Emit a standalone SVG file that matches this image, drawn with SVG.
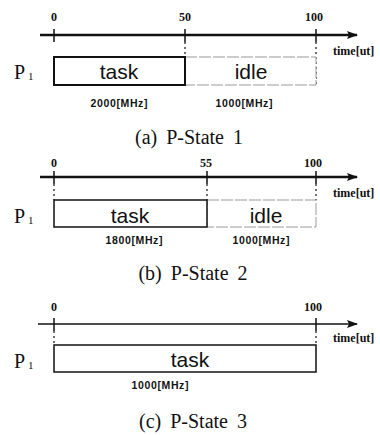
<svg xmlns="http://www.w3.org/2000/svg" width="380" height="435" viewBox="0 0 380 435">
<style>
.num{font-family:"Liberation Serif",serif;font-weight:bold;font-size:12px;text-anchor:middle;fill:#111}
.tl{font-family:"Liberation Serif",serif;font-weight:bold;font-size:12px;fill:#111}
.p{font-family:"Liberation Serif",serif;font-size:20px;fill:#111}
.ps{font-family:"Liberation Serif",serif;font-size:11px;fill:#111}
.lbl{font-family:"Liberation Sans",Arial,sans-serif;font-size:21px;text-anchor:middle;fill:#111}
.fq{font-family:"Liberation Sans",Arial,sans-serif;font-weight:bold;font-size:10.5px;text-anchor:middle;fill:#111}
.cap{font-family:"Liberation Serif",serif;font-size:20px;word-spacing:4px;text-anchor:middle;fill:#111}
.ax{stroke:#111;stroke-width:2.5;fill:none}
.ax2{stroke:#111;stroke-width:1.5;fill:none}
.tick{stroke:#111;stroke-width:1.5}
.dash{stroke:#111;stroke-width:1.2;stroke-dasharray:2 3}
.task{fill:#fff;stroke:#111;stroke-width:2}
.task2{fill:#fff;stroke:#111;stroke-width:1.5}
.idle{fill:#fff;stroke:#999;stroke-width:1;stroke-dasharray:12 2}
</style>
<defs>
<marker id="arr" markerWidth="11" markerHeight="8" refX="10" refY="4" orient="auto" markerUnits="userSpaceOnUse">
<path d="M0,0 L11,4 L0,8 L2,4 Z" fill="#111"/>
</marker>
</defs>

<g id="connectors">
<line class="ax" x1="40" y1="35" x2="357" y2="35" marker-end="url(#arr)"/>
<line class="tick" x1="54" y1="29" x2="54" y2="42"/>
<line class="tick" x1="185" y1="29" x2="185" y2="42"/>
<line class="tick" x1="316" y1="29" x2="316" y2="42"/>
<line class="dash" x1="185" y1="42" x2="185" y2="57"/>
<line class="dash" x1="316" y1="42" x2="316" y2="85"/>

<line class="ax" x1="40" y1="177" x2="357" y2="177" marker-end="url(#arr)"/>
<line class="tick" x1="54" y1="171" x2="54" y2="184"/>
<line class="tick" x1="207" y1="171" x2="207" y2="184"/>
<line class="tick" x1="316" y1="171" x2="316" y2="184"/>
<line class="dash" x1="54" y1="184" x2="54" y2="200"/>
<line class="dash" x1="207" y1="184" x2="207" y2="200"/>
<line class="dash" x1="316" y1="184" x2="316" y2="200"/>

<line class="ax2" x1="38" y1="324" x2="357" y2="324" marker-end="url(#arr)"/>
<line class="tick" x1="54" y1="318" x2="54" y2="331"/>
<line class="tick" x1="316" y1="318" x2="316" y2="331"/>
<line class="dash" x1="54" y1="331" x2="54" y2="345"/>
<line class="dash" x1="316" y1="331" x2="316" y2="345"/>
</g>

<g id="axis-a-labels">
<text class="num" x="54" y="21">0</text>
<text class="num" x="185" y="21">50</text>
<text class="num" x="314" y="21">100</text>
<text class="tl" x="333" y="55">time[ut]</text>
</g>
<g id="p1-a"><text class="p" x="14" y="79">P</text><text class="ps" x="28" y="80">1</text></g>
<g id="idle-a">
<rect class="idle" x="185" y="57" width="131" height="28"/>
<text class="lbl" x="251" y="79">idle</text>
<text class="fq" x="244" y="107" textLength="57">1000[MHz]</text>
</g>
<g id="task-a">
<rect class="task" x="54" y="57" width="131" height="28"/>
<text class="lbl" x="119" y="79">task</text>
<text class="fq" x="119" y="107" textLength="57">2000[MHz]</text>
</g>
<g id="caption-a"><text class="cap" x="189" y="144">(a) P-State 1</text></g>

<g id="axis-b-labels">
<text class="num" x="54" y="167">0</text>
<text class="num" x="206" y="167">55</text>
<text class="num" x="313" y="167">100</text>
<text class="tl" x="333" y="197">time[ut]</text>
</g>
<g id="p1-b"><text class="p" x="14" y="223">P</text><text class="ps" x="28" y="224">1</text></g>
<g id="idle-b">
<rect class="idle" x="207" y="200" width="109" height="27"/>
<text class="lbl" x="266" y="223">idle</text>
<text class="fq" x="261" y="244" textLength="57">1000[MHz]</text>
</g>
<g id="task-b">
<rect class="task2" x="54" y="200" width="153" height="27"/>
<text class="lbl" x="130" y="223">task</text>
<text class="fq" x="134" y="244" textLength="57">1800[MHz]</text>
</g>
<g id="caption-b"><text class="cap" x="193" y="280">(b) P-State 2</text></g>

<g id="axis-c-labels">
<text class="num" x="54" y="311">0</text>
<text class="num" x="313" y="311">100</text>
<text class="tl" x="333" y="342">time[ut]</text>
</g>
<g id="p1-c"><text class="p" x="14" y="368">P</text><text class="ps" x="28" y="369">1</text></g>
<g id="task-c">
<rect class="task2" x="54" y="345" width="262" height="27"/>
<text class="lbl" x="190" y="367">task</text>
<text class="fq" x="160" y="389" textLength="57">1000[MHz]</text>
</g>
<g id="caption-c"><text class="cap" x="193" y="428">(c) P-State 3</text></g>
</svg>
